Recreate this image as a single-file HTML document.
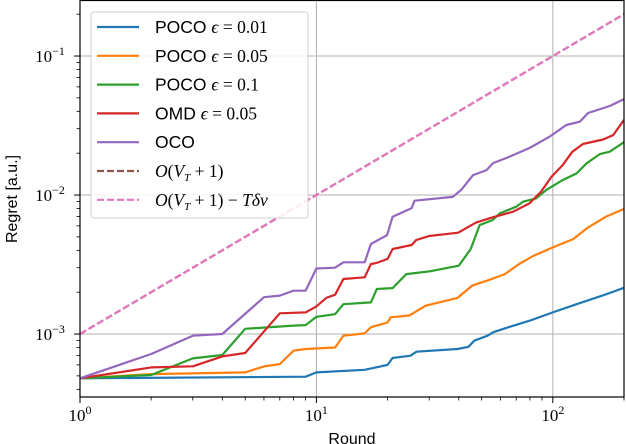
<!DOCTYPE html>
<html><head><meta charset="utf-8"><style>
body{margin:0;background:#fff}
svg{display:block}
text{font-family:"Liberation Sans",sans-serif}
.m{font-family:"Liberation Serif",serif}
</style></head><body>
<svg id="chart" width="626" height="444" viewBox="0 0 626 444" xmlns="http://www.w3.org/2000/svg">
<g id="grid"></g>
<g id="series"></g>
<g id="axes"></g>
<text x="352" y="444" text-anchor="middle" font-size="16">Round</text>
<text transform="translate(17,199) rotate(-90)" text-anchor="middle" font-size="16">Regret [a.u.]</text>
<g id="legend"></g>
</svg>
<script>
const seriesNames=["POCO \u03f5 = 0.01","POCO \u03f5 = 0.05","POCO \u03f5 = 0.1","OMD \u03f5 = 0.05","OCO","O(V_T + 1)","O(V_T + 1) \u2212 T\u03b4\u03bd"];
const colors=["#1f77b4","#ff7f0e","#2ca02c","#d62728","#9467bd","#8c564b","#e377c2"];
const blueN=[1,9,10,16,20,21,25,26.5,39.5,44,46.5,53,56,65,80,100,126,162,200];
const blueV=[4.8e-4,4.93e-4,5.3e-4,5.53e-4,6.0e-4,6.72e-4,6.98e-4,7.46e-4,7.8e-4,8.1e-4,8.95e-4,9.73e-4,1.03e-3,1.12e-3,1.25e-3,1.43e-3,1.64e-3,1.89e-3,2.15e-3];
const orangeN=[1,2,5,6,7,8,9,12,13,16,17,20,20.6,24.7,29,39.5,45.6,52.6,62.7,72,83,100,122,140,168,200];
const orangeV=[4.8e-4,5.15e-4,5.3e-4,5.85e-4,6.08e-4,7.59e-4,7.8e-4,8.0e-4,9.73e-4,1.01e-3,1.12e-3,1.21e-3,1.32e-3,1.36e-3,1.6e-3,1.82e-3,2.23e-3,2.42e-3,2.7e-3,3.19e-3,3.66e-3,4.2e-3,4.82e-3,5.8e-3,7.0e-3,7.95e-3];
const greenN=[1,2,3,4,5,8,9,10,12,13,17,18,21,24,30,40,45,49,55.7,59.6,70,74.8,85,94,110,126,139,158,174,200];
const greenV=[4.8e-4,5.07e-4,6.68e-4,7.06e-4,1.09e-3,1.15e-3,1.16e-3,1.33e-3,1.39e-3,1.64e-3,1.69e-3,2.11e-3,2.14e-3,2.7e-3,2.82e-3,3.1e-3,4.1e-3,6.08e-3,6.61e-3,7.38e-3,8.24e-3,8.95e-3,9.46e-3,1.09e-2,1.28e-2,1.43e-2,1.69e-2,1.97e-2,2.05e-2,2.4e-2];
const redN=[1,2,3,4,5,7,9,10,11,12,13,16,17,18,20,21,25.3,26.4,30,39.8,47.3,55.7,67.9,79.7,89.3,98.6,110,121,134,163,180,200];
const redV=[4.8e-4,5.75e-4,5.86e-4,6.9e-4,7.3e-4,1.41e-3,1.43e-3,1.58e-3,1.82e-3,1.92e-3,2.49e-3,2.56e-3,3.19e-3,3.25e-3,3.47e-3,4.09e-3,4.37e-3,4.74e-3,5.07e-3,5.36e-3,6.33e-3,6.91e-3,7.59e-3,8.71e-3,1.06e-2,1.35e-2,1.64e-2,2.05e-2,2.33e-2,2.51e-2,2.7e-2,3.47e-2];
const purpleN=[1,2,3,4,6,7,8,9,10,12,13,16,17,19.9,21,25.3,26,37.7,41,46,52.4,56,63.8,79.7,97,114,130,141,174,200];
const purpleV=[4.8e-4,7.18e-4,9.73e-4,1.0e-3,1.84e-3,1.89e-3,2.05e-3,2.05e-3,2.96e-3,3.0e-3,3.28e-3,3.28e-3,4.44e-3,5.15e-3,6.98e-3,8.05e-3,9.1e-3,9.7e-3,1.09e-2,1.39e-2,1.51e-2,1.7e-2,1.85e-2,2.18e-2,2.63e-2,3.19e-2,3.37e-2,3.89e-2,4.37e-2,4.9e-2];
const boundN=[1,200];
const boundV=[1e-3,0.2];
const xTicks=[1,10,100];
const xTickLabels=["0","1","2"];
const yTicks=[1e-3,1e-2,1e-1];
const yTickLabels=["\u22123","\u22122","\u22121"];

const L=80,R=624,T=0,B=397;
const xMin=0,xMax=Math.log10(200);
const yMin=-3.453,yMax=-0.597;
function xs(n){return L+(Math.log10(n)-xMin)/(xMax-xMin)*(R-L);}
function ys(v){return B-(Math.log10(v)-yMin)/(yMax-yMin)*(B-T);}
const NS="http://www.w3.org/2000/svg";
function mk(tag,attrs,parent){const e=document.createElementNS(NS,tag);for(const k in attrs)e.setAttribute(k,attrs[k]);parent.appendChild(e);return e;}
const grid=document.getElementById('grid'),axes=document.getElementById('axes'),ser=document.getElementById('series'),leg=document.getElementById('legend');
xTicks.forEach((t,i)=>{
 const x=xs(t);
 const g=mk('line',{x1:x,x2:x,y1:T,y2:B,stroke:'#b0b0b0','stroke-width':1},grid);
 
 
 const tk=mk('line',{x1:x,x2:x,y1:B,y2:B+6,stroke:'#000','stroke-width':1},axes);
 
 
 const tx=mk('text',{x:x,y:B+24,'text-anchor':'middle','font-size':17,class:'m'},axes);
 
 
 tx.innerHTML='10<tspan dy="-7" font-size="12">'+xTickLabels[i]+'</tspan>';
});
for(let d=0;d<3;d++)for(let k=2;k<10;k++){const n=k*Math.pow(10,d);if(n>200)break;const x=xs(n);
 const m=mk('line',{x1:x,x2:x,y1:B,y2:B+3.5,stroke:'#000','stroke-width':0.8},axes);
 
 }
yTicks.forEach((t,i)=>{
 const y=ys(t);
 const g=mk('line',{x1:L,x2:R,y1:y,y2:y,stroke:'#b0b0b0','stroke-width':1},grid);
 
 
 const tk=mk('line',{x1:L-6,x2:L,y1:y,y2:y,stroke:'#000','stroke-width':1},axes);
 
 
 const tx=mk('text',{x:L-30,y:y+6,'text-anchor':'middle','font-size':17,class:'m'},axes);
 
 
 tx.innerHTML='10<tspan dy="-7" font-size="12">'+yTickLabels[i]+'</tspan>';
});
for(let d=-4;d<0;d++)for(let k=2;k<10;k++){const v=k*Math.pow(10,d);const lv=Math.log10(v);if(lv<yMin||lv>yMax)continue;const y=ys(v);
 const m=mk('line',{x1:L-3.5,x2:L,y1:y,y2:y,stroke:'#000','stroke-width':0.8},axes);
 
 }
const fr=mk('rect',{x:L,y:T+0.5,width:R-L,height:B-T-0.5,fill:'none',stroke:'#000','stroke-width':1.2},axes);


const data=[[blueN,blueV],[orangeN,orangeV],[greenN,greenV],[redN,redV],[purpleN,purpleV],[boundN,boundV],[boundN,boundV]];
const names=['poco-001-line','poco-005-line','poco-01-line','omd-005-line','oco-line','bound-line','bound-minus-line'];
data.forEach((d,i)=>{
 const pts=d[0].map((n,j)=>xs(n).toFixed(1)+','+ys(d[1][j]).toFixed(1)).join(' ');
 const p=mk('polyline',{points:pts,fill:'none',stroke:colors[i],'stroke-width':2.2,'stroke-linejoin':'round'},ser);
 if(i>=5)p.setAttribute('stroke-dasharray','7,3');
 
 
});
const lb=mk('rect',{x:91,y:12,width:217,height:206,rx:3,fill:'#fff','fill-opacity':0.85,stroke:'#d0d0d0','stroke-width':1},leg);


const labels=['POCO <tspan class="m" font-style="italic">\u03f5</tspan><tspan class="m"> = 0.01</tspan>','POCO <tspan class="m" font-style="italic">\u03f5</tspan><tspan class="m"> = 0.05</tspan>','POCO <tspan class="m" font-style="italic">\u03f5</tspan><tspan class="m"> = 0.1</tspan>','OMD <tspan class="m" font-style="italic">\u03f5</tspan><tspan class="m"> = 0.05</tspan>','OCO','<tspan class="m" font-style="italic">O</tspan><tspan class="m">(</tspan><tspan class="m" font-style="italic">V</tspan><tspan class="m" font-style="italic" font-size="11" dy="4">T</tspan><tspan class="m" dy="-4"> + 1)</tspan>','<tspan class="m" font-style="italic">O</tspan><tspan class="m">(</tspan><tspan class="m" font-style="italic">V</tspan><tspan class="m" font-style="italic" font-size="11" dy="4">T</tspan><tspan class="m" dy="-4"> + 1) \u2212 </tspan><tspan class="m" font-style="italic">T\u03b4\u03bd</tspan>'];
labels.forEach((s,i)=>{
 const y=27+i*28.8;
 const ln=mk('line',{x1:97,x2:139,y1:y,y2:y,stroke:colors[i],'stroke-width':2.2},leg);
 if(i>=5)ln.setAttribute('stroke-dasharray','7,3');
 
 
 const t=mk('text',{x:155,y:y+6,'font-size':17.5},leg);
 
 
 t.innerHTML=s;
});
</script>
</body></html>
